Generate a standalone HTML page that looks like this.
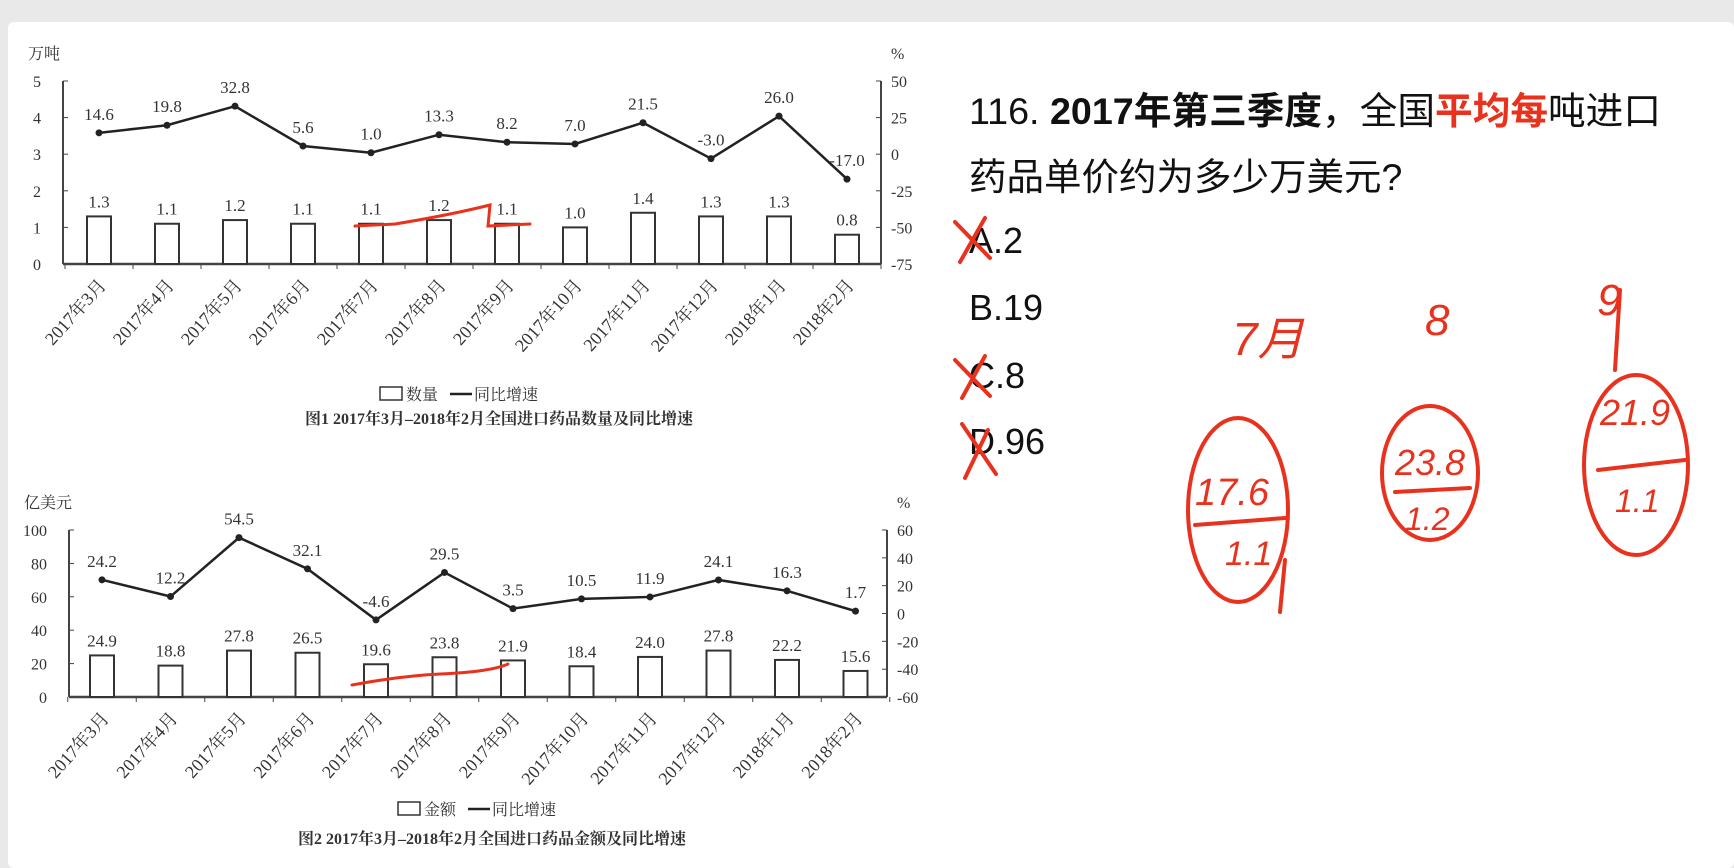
<!DOCTYPE html>
<html><head><meta charset="utf-8">
<style>
html,body{margin:0;padding:0;background:#e9e9e9;width:1734px;height:868px;overflow:hidden}
#panel{position:absolute;left:8px;top:22px;width:1726px;height:846px;background:#fff;border-radius:6px}
svg{position:absolute;left:0;top:0}
.c{font-family:"Liberation Serif","Noto Serif CJK SC",serif;fill:#333}
.q{font-family:"Liberation Sans","Noto Sans CJK SC",sans-serif;fill:#111}
.h{font-family:"Liberation Sans","Noto Sans CJK SC",sans-serif;fill:#e8321e;font-style:italic}
</style></head><body>
<div id="panel"></div>
<svg id="s" width="1734" height="868" xmlns="http://www.w3.org/2000/svg">
<g id="g1"></g>
<g id="g2"></g>
<g>
<text class="q" x="969" y="124" font-size="37.5" textLength="692" lengthAdjust="spacingAndGlyphs">116. <tspan font-weight="bold">2017年第三季度</tspan>，全国<tspan font-weight="bold" fill="#e8321e">平均每</tspan>吨进口</text>
<text class="q" x="969" y="190" font-size="37.5">药品单价约为多少万美元?</text>
<text class="q" x="969" y="253" font-size="36">A.2</text>
<text class="q" x="969" y="320" font-size="36">B.19</text>
<text class="q" x="969" y="388" font-size="36">C.8</text>
<text class="q" x="969" y="454" font-size="36">D.96</text>
</g>
<g stroke="#e8321e" stroke-width="4" fill="none" stroke-linecap="round">
<path d="M955 222 L990 258 M985 218 L960 262"/>
<path d="M955 360 L990 396 M985 356 L962 398"/>
<path d="M962 424 L996 474 M988 430 L965 478"/>
<ellipse cx="1238" cy="510" rx="50" ry="92"/>
<path d="M1195 525 L1285 518 M1285 560 L1280 612"/>
<ellipse cx="1430" cy="473" rx="48" ry="67"/>
<path d="M1395 492 L1470 488"/>
<ellipse cx="1636" cy="465" rx="52" ry="90"/>
<path d="M1598 470 L1685 460 M1620 290 L1615 370"/>
<path d="M355 226 L395 224 Q450 215 490 205 L488 226 L530 224" stroke-width="3"/>
<path d="M352 685 Q400 676 440 674 Q490 672 508 664" stroke-width="3"/>
</g>
<g>
<text class="h" x="1232" y="355" font-size="46">7月</text>
<text class="h" x="1425" y="335" font-size="44">8</text>
<text class="h" x="1597" y="315" font-size="44">9</text>
<text class="h" x="1195" y="505" font-size="38">17.6</text>
<text class="h" x="1225" y="565" font-size="34">1.1</text>
<text class="h" x="1395" y="475" font-size="36">23.8</text>
<text class="h" x="1405" y="530" font-size="32">1.2</text>
<text class="h" x="1600" y="425" font-size="36">21.9</text>
<text class="h" x="1615" y="512" font-size="32">1.1</text>
</g>
</svg>
<script>
const months=["2017年3月","2017年4月","2017年5月","2017年6月","2017年7月","2017年8月","2017年9月","2017年10月","2017年11月","2017年12月","2018年1月","2018年2月"];
const qtyBars=[1.3,1.1,1.2,1.1,1.1,1.2,1.1,1.0,1.4,1.3,1.3,0.8];
const qtyGrowth=[14.6,19.8,32.8,5.6,1.0,13.3,8.2,7.0,21.5,-3.0,26.0,-17.0];
const qtyLeftTicks=[0,1,2,3,4,5];
const qtyRightTicks=[-75,-50,-25,0,25,50];
const amtBars=[24.9,18.8,27.8,26.5,19.6,23.8,21.9,18.4,24.0,27.8,22.2,15.6];
const amtGrowth=[24.2,12.2,54.5,32.1,-4.6,29.5,3.5,10.5,11.9,24.1,16.3,1.7];
const amtLeftTicks=[0,20,40,60,80,100];
const amtRightTicks=[-60,-40,-20,0,20,40,60];
const NS="http://www.w3.org/2000/svg";
function mk(p,t,a,txt){const e=document.createElementNS(NS,t);for(const k in a)e.setAttribute(k,a[k]);if(txt!==undefined)e.textContent=txt;p.appendChild(e);return e;}
function draw(g,cfg){
  const {L,R,top,bot,x0,step,lmin,lmax,rmin,rmax,bars,line,lt,rt,unitL,unitLx,title,legend,legX,legY,titleX,titleY}=cfg;
  const yl=v=>bot-(v-lmin)/(lmax-lmin)*(bot-top);
  const yr=v=>bot-(v-rmin)/(rmax-rmin)*(bot-top);
  const xc=i=>x0+i*step;
  let e;
  e=mk(g,"line",{x1:L,y1:top,x2:L,y2:bot,stroke:"#444","stroke-width":2});
  
  e=mk(g,"line",{x1:R,y1:top,x2:R,y2:bot,stroke:"#444","stroke-width":2});
  
  e=mk(g,"line",{x1:L,y1:bot,x2:R,y2:bot,stroke:"#444","stroke-width":2.5});
  
  lt.forEach(v=>{mk(g,"line",{x1:L,y1:yl(v),x2:L+5,y2:yl(v),stroke:"#444"});
    e=mk(g,"text",{class:"c",x:L-22,y:yl(v)+6,"font-size":16,"text-anchor":"end"},v);
    });
  rt.forEach(v=>{mk(g,"line",{x1:R-5,y1:yr(v),x2:R,y2:yr(v),stroke:"#444"});
    e=mk(g,"text",{class:"c",x:R+10,y:yr(v)+6,"font-size":16},v);
    });
  e=mk(g,"text",{class:"c",x:unitLx,y:top-22,"font-size":16},unitL);
  
  e=mk(g,"text",{class:"c",x:R+10,y:top-22,"font-size":16},"%");
  
  for(let i=0;i<=12;i++){mk(g,"line",{x1:x0+(i-0.5)*step,y1:bot,x2:x0+(i-0.5)*step,y2:bot+5,stroke:"#444"});}
  bars.forEach((v,i)=>{
    e=mk(g,"rect",{x:xc(i)-12,y:yl(v),width:24,height:bot-yl(v),fill:"#fff",stroke:"#333","stroke-width":2});
    
    e=mk(g,"text",{class:"c",x:xc(i),y:yl(v)-9,"font-size":17,"text-anchor":"middle"},v.toFixed(1));
    
  });
  const pts=line.map((v,i)=>xc(i)+","+yr(v)).join(" ");
  e=mk(g,"polyline",{points:pts,fill:"none",stroke:"#222","stroke-width":2.5});
  
  line.forEach((v,i)=>{
    e=mk(g,"circle",{cx:xc(i),cy:yr(v),r:3.5,fill:"#222"});
    
    e=mk(g,"text",{class:"c",x:xc(i),y:yr(v)-13,"font-size":17,"text-anchor":"middle"},v.toFixed(1));
    
  });
  months.forEach((m,i)=>{
    const x=xc(i)+8,y=bot+22;
    e=mk(g,"text",{class:"c",x:x,y:y,"font-size":18,"text-anchor":"end",transform:`rotate(-48 ${x} ${y})`},m);
    
  });
  e=mk(g,"rect",{x:legX,y:legY-13,width:22,height:13,fill:"#fff",stroke:"#333","stroke-width":1.5});
  
  e=mk(g,"text",{class:"c",x:legX+26,y:legY,"font-size":16},legend);
  
  e=mk(g,"line",{x1:legX+70,y1:legY-6,x2:legX+92,y2:legY-6,stroke:"#222","stroke-width":2.5});
  
  e=mk(g,"text",{class:"c",x:legX+94,y:legY,"font-size":16},"同比增速");
  
  e=mk(g,"text",{class:"c",x:titleX,y:titleY,"font-size":16,"font-weight":"bold","text-anchor":"middle"},title);
  
}
draw(document.getElementById("g1"),{L:63,R:881,top:81,bot:264,x0:99,step:68,lmin:0,lmax:5,rmin:-75,rmax:50,bars:qtyBars,line:qtyGrowth,lt:qtyLeftTicks,rt:qtyRightTicks,unitL:"万吨",unitLx:28,title:"图1  2017年3月–2018年2月全国进口药品数量及同比增速",legend:"数量",legX:380,legY:400,titleX:499,titleY:424});
draw(document.getElementById("g2"),{L:69,R:887,top:530,bot:697,x0:102,step:68.5,lmin:0,lmax:100,rmin:-60,rmax:60,bars:amtBars,line:amtGrowth,lt:amtLeftTicks,rt:amtRightTicks,unitL:"亿美元",unitLx:24,title:"图2  2017年3月–2018年2月全国进口药品金额及同比增速",legend:"金额",legX:398,legY:815,titleX:492,titleY:844});
</script>
</body></html>
